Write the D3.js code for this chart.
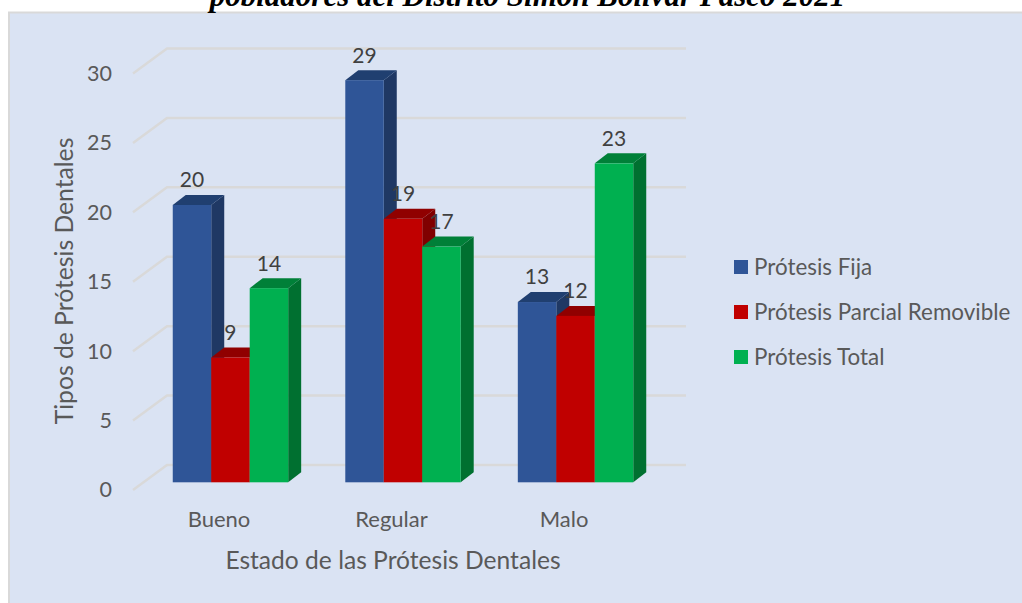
<!DOCTYPE html>
<html>
<head>
<meta charset="utf-8">
<script src="https://d3js.org/d3.v7.min.js"></script>
<style>
  html, body { margin: 0; padding: 0; background: #fff; overflow: hidden; }
  text { font-family: Lato, "Open Sans", sans-serif; }
</style>
</head>
<body>
<script>
const categories = ['Bueno', 'Regular', 'Malo'];
const seriesNames = ['Prótesis Fija', 'Prótesis Parcial Removible', 'Prótesis Total'];
const protesisFija = [20, 29, 13];
const protesisParcial = [9, 19, 12];
const protesisTotal = [14, 17, 23];
const yTicks = [0, 5, 10, 15, 20, 25, 30];
const titleText = 'pobladores del Distrito Simón Bolívar Pasco 2021';
const yTitle = 'Tipos de Prótesis Dentales';
const xTitle = 'Estado de las Prótesis Dentales';

const seriesValues = [protesisFija, protesisParcial, protesisTotal];
const colors = [
  { front: '#2f5597', side: '#1f3864', top: '#203f70' },
  { front: '#c00000', side: '#800000', top: '#900000' },
  { front: '#00b050', side: '#007030', top: '#008038' }
];

const w = 1022;
const h = 603;
const depth = { x: 13, y: 10 };      // bar depth
const wall = { x: 34, y: 25 };       // floor depth, front edge to back wall

const svg = d3.select('body').append('svg')
  .attr('width', w)
  .attr('height', h)
  .style('display', 'block');

// panel runs off the right and bottom edges of the picture
svg.append('rect')
  .attr('x', 9).attr('y', 12.5)
  .attr('width', 1030).attr('height', 620)
  .attr('fill', '#dae3f3')
  .attr('stroke', '#d9d9d9')
  .attr('stroke-width', 2);

svg.append('text')
  .attr('x', 527.5).attr('y', 6)
  .attr('text-anchor', 'middle')
  .style('font-family', '"Liberation Serif", serif')
  .style('font-weight', 'bold')
  .style('font-style', 'italic')
  .style('font-size', '31px')
  .attr('fill', '#000')
  .text(titleText);

// scales
const x0 = d3.scaleBand()
  .domain(categories)
  .range([144.2, 661.8])
  .paddingInner(0.331)
  .paddingOuter(0.1655);
const x1 = d3.scaleBand()
  .domain(seriesNames)
  .range([0, x0.bandwidth()]);
const yFront = d3.scaleLinear().domain([0, 30]).range([490, 73.5]);
const yBar = d3.scaleLinear().domain([0, 30]).range([482.3, 66.3]);

// gridlines on the floor edge and the back wall
svg.append('g').selectAll('path')
  .data(yTicks)
  .enter()
  .append('path')
  .attr('d', d => 'M133,' + yFront(d) + 'L' + (133 + wall.x) + ',' + (yFront(d) - wall.y) + 'H686')
  .attr('fill', 'none')
  .attr('stroke', '#d9d9d9')
  .attr('stroke-width', 2.5);

// bars, back to front inside each group
const groups = svg.append('g').selectAll('g')
  .data(categories)
  .enter()
  .append('g')
  .attr('transform', d => 'translate(' + x0(d) + ',0)');

seriesNames.forEach(function(name, s) {
  const bar = groups.append('g').datum((d, i) => seriesValues[s][i]);
  const bx = x1(name);
  const bw = x1.bandwidth();
  bar.append('path')
    .attr('fill', colors[s].side)
    .attr('d', v => 'M' + (bx + bw) + ',' + yBar(v) + 'l' + depth.x + ',' + (-depth.y) +
      'V' + (yBar(0) - depth.y) + 'l' + (-depth.x) + ',' + depth.y + 'Z');
  bar.append('path')
    .attr('fill', colors[s].top)
    .attr('d', v => 'M' + bx + ',' + yBar(v) + 'l' + depth.x + ',' + (-depth.y) +
      'h' + bw + 'l' + (-depth.x) + ',' + depth.y + 'Z');
  bar.append('rect')
    .attr('x', bx)
    .attr('y', v => yBar(v))
    .attr('width', bw)
    .attr('height', v => yBar(0) - yBar(v))
    .attr('fill', colors[s].front);
});

// data labels
seriesNames.forEach(function(name, s) {
  groups.append('text')
    .datum((d, i) => seriesValues[s][i])
    .attr('x', x1(name) + x1.bandwidth() / 2)
    .attr('y', v => yBar(v) - 25)
    .attr('dy', '0.35em')
    .attr('text-anchor', 'middle')
    .attr('fill', '#404040')
    .style('font-size', '21px')
    .text(v => v);
});

// axes
const yAxis = d3.axisLeft(yFront).tickValues(yTicks).tickSize(0).tickPadding(0);
const yG = svg.append('g')
  .attr('transform', 'translate(112,0)')
  .call(yAxis);
yG.select('.domain').remove();
yG.selectAll('text').attr('fill', '#595959').style('font-size', '21.5px').style('font-family', 'Lato');

const xAxis = d3.axisBottom(x0).tickSize(0).tickPadding(0);
const xG = svg.append('g')
  .attr('transform', 'translate(-11.5,511)')
  .call(xAxis);
xG.select('.domain').remove();
xG.selectAll('text').attr('fill', '#595959').style('font-size', '22px').style('font-family', 'Lato');

svg.append('text')
  .attr('transform', 'translate(64,281) rotate(-90)')
  .attr('text-anchor', 'middle')
  .attr('dy', '0.35em')
  .attr('fill', '#595959')
  .style('font-size', '24.7px')
  .text(yTitle);

svg.append('text')
  .attr('x', 393).attr('y', 560)
  .attr('dy', '0.35em')
  .attr('text-anchor', 'middle')
  .attr('fill', '#595959')
  .style('font-size', '24.6px')
  .text(xTitle);

// legend
const legend = svg.append('g').selectAll('g')
  .data(seriesNames)
  .enter()
  .append('g')
  .attr('transform', (d, i) => 'translate(734,' + (260 + i * 45) + ')');
legend.append('rect')
  .attr('width', 14).attr('height', 14)
  .attr('fill', (d, i) => colors[i].front);
legend.append('text')
  .attr('x', 20).attr('y', 7)
  .attr('dy', '0.35em')
  .attr('fill', '#595959')
  .style('font-size', '22.4px')
  .text(d => d);
</script>
</body>
</html>
